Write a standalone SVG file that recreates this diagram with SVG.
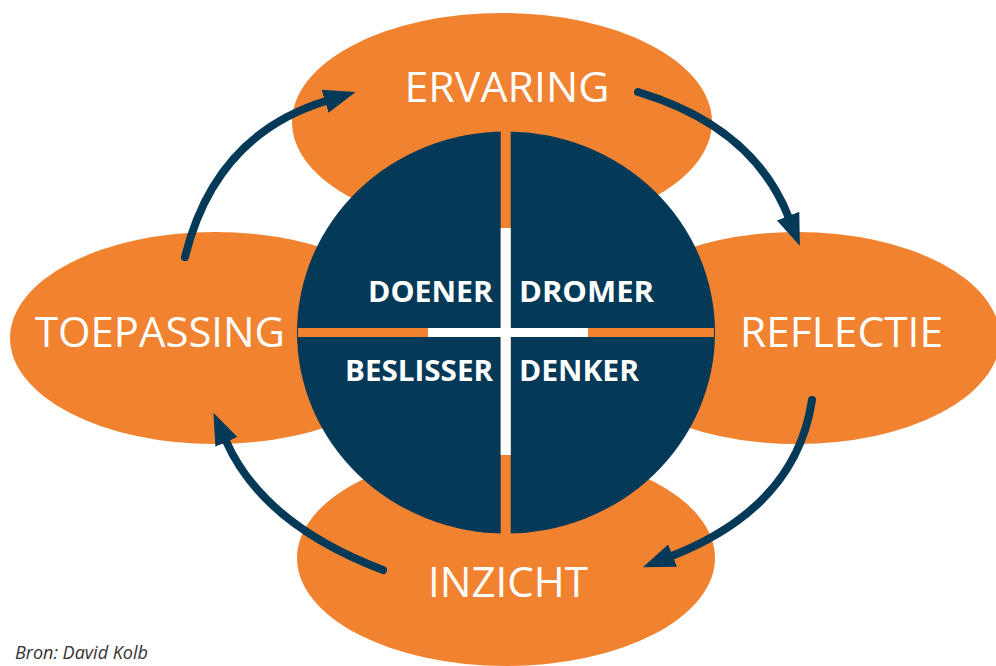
<svg xmlns="http://www.w3.org/2000/svg" width="996" height="666" viewBox="0 0 996 666">
<style>
.orange{fill:#F1822F}
.navy{fill:#043958}
.lbl{font-family:"Open Sans","Liberation Sans",sans-serif;font-size:42px;fill:#ffffff;text-anchor:middle}
.inner{font-family:"Open Sans","Liberation Sans",sans-serif;font-size:28px;font-weight:700;fill:#ffffff}
.conn{fill:none;stroke:#043958;stroke-width:8;stroke-linecap:round}
.src{font-family:"Open Sans","Liberation Sans",sans-serif;font-size:18px;font-style:italic;fill:#333333}
</style>
<defs>
<marker id="ah" markerUnits="userSpaceOnUse" markerWidth="34" markerHeight="26" refX="1" refY="12" orient="auto">
<path d="M0,0 L32,12 L0,24 Z" fill="#043958"/>
</marker>
</defs>
<rect width="996" height="666" fill="#ffffff"/>
<g id="ervaring">
<ellipse class="orange" cx="502" cy="122" rx="210" ry="109"/>
<text class="lbl" x="507" y="102" textLength="205" lengthAdjust="spacingAndGlyphs">ERVARING</text>
</g>
<g id="toepassing">
<ellipse class="orange" cx="215" cy="338" rx="205" ry="106"/>
<text class="lbl" x="160" y="347" textLength="250" lengthAdjust="spacingAndGlyphs">TOEPASSING</text>
</g>
<g id="reflectie">
<ellipse class="orange" cx="797" cy="338" rx="203" ry="106"/>
<text class="lbl" x="841.5" y="347" textLength="203" lengthAdjust="spacingAndGlyphs">REFLECTIE</text>
</g>
<g id="inzicht">
<ellipse class="orange" cx="506" cy="558" rx="209" ry="108"/>
<text class="lbl" x="508" y="597" textLength="160" lengthAdjust="spacingAndGlyphs">INZICHT</text>
</g>
<g id="center">
<ellipse class="navy" cx="506" cy="332.5" rx="209" ry="201"/>
<rect class="orange" x="500.7" y="131" width="10" height="403"/>
<rect class="orange" x="298" y="328" width="416" height="9"/>
<rect fill="#ffffff" x="500.7" y="228" width="10" height="227"/>
<rect fill="#ffffff" x="428" y="328" width="160" height="9"/>
<text class="inner" x="368" y="302" textLength="125" lengthAdjust="spacingAndGlyphs">DOENER</text>
<text class="inner" x="519" y="302" textLength="135" lengthAdjust="spacingAndGlyphs">DROMER</text>
<text class="inner" x="345" y="381" textLength="148" lengthAdjust="spacingAndGlyphs">BESLISSER</text>
<text class="inner" x="519" y="381" textLength="120" lengthAdjust="spacingAndGlyphs">DENKER</text>
</g>
<g id="connectors">
<path class="conn" d="M185,257 Q215,135 326,101" marker-end="url(#ah)"/>
<path class="conn" d="M638,92 Q753,126.6 788.5,217" marker-end="url(#ah)"/>
<path class="conn" d="M812,400 Q796,507 671.7,556" marker-end="url(#ah)"/>
<path class="conn" d="M383,570 Q263,524.4 226,441" marker-end="url(#ah)"/>
</g>
<text class="src" x="15" y="659">Bron: David Kolb</text>
</svg>
